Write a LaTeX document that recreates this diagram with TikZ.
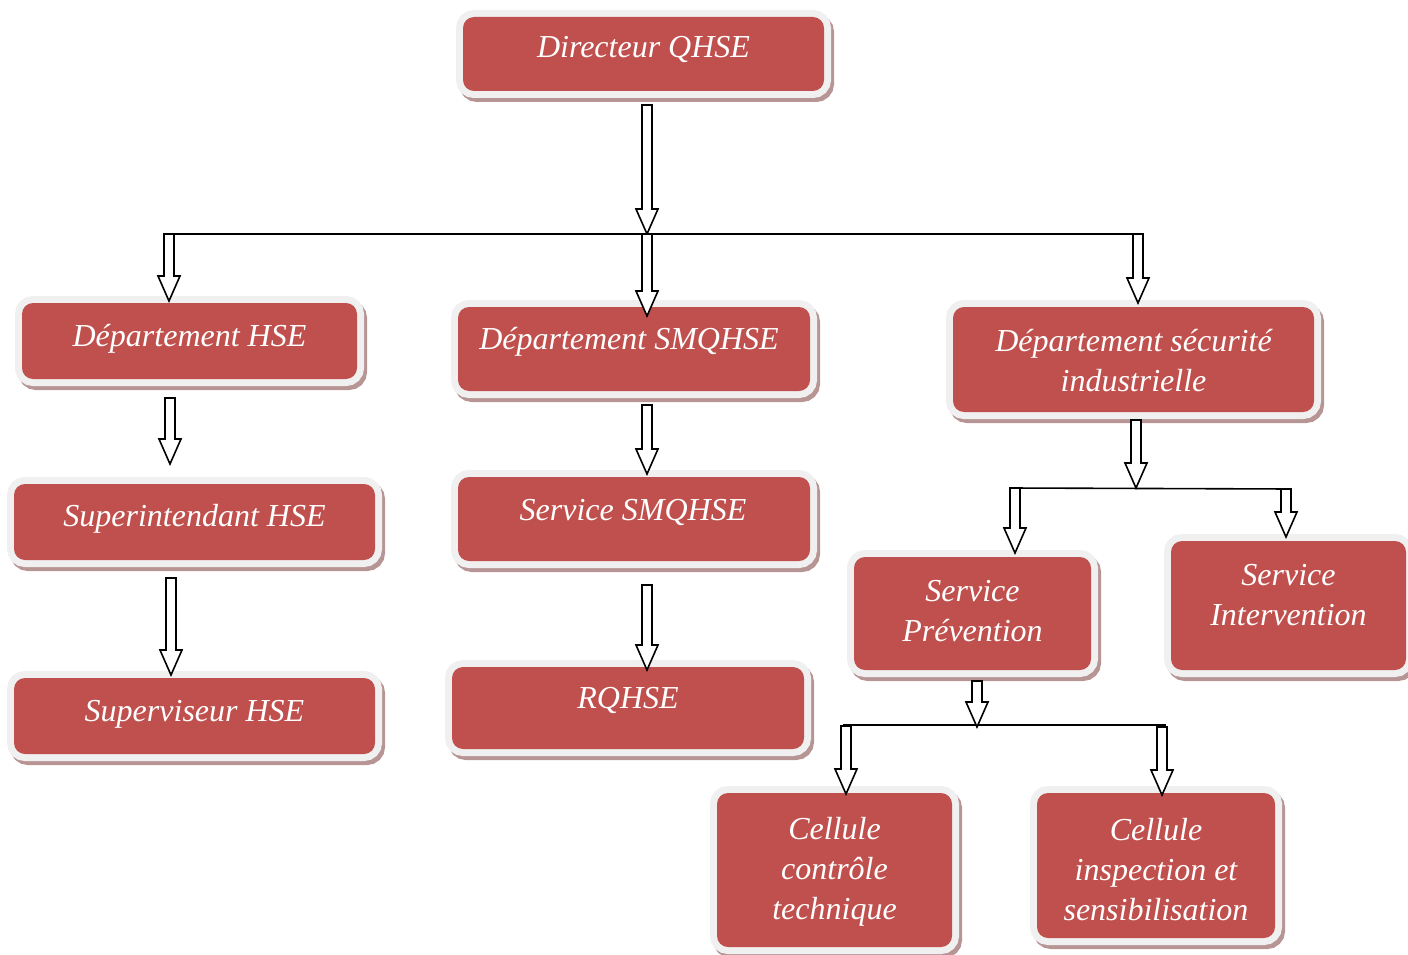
\documentclass[tikz,border=0pt]{standalone}
\usepackage{fontspec}
\setmainfont{Liberation Serif}
\usetikzlibrary{calc}
\definecolor{boxred}{HTML}{C0504D}
\definecolor{boxframe}{HTML}{F0F0F0}
\definecolor{boxshadow}{HTML}{B79595}
\tikzset{
  orgbox/.style={rectangle, rounded corners=11pt, fill=boxred, inner sep=0pt,
    preaction={draw=boxshadow, line width=14pt, transform canvas={shift={(3pt,-4pt)}}},
    preaction={draw=boxframe, line width=14pt}},
  boxtext/.style={text=white, font=\fontsize{32}{40}\selectfont\itshape,
    align=center, inner sep=0pt},
  hollowarrow/.style={draw=black, fill=white, line width=1.6pt, line join=miter},
  joinline/.style={draw=black, line width=1.6pt}
}
\newcommand\blockarrow[2]{%
  \draw[hollowarrow] let \p1=(#1), \p2=(#2) in
    (\x1-5pt,\y1) -- (\x1+5pt,\y1) -- (\x1+5pt,\y2+25pt) -- (\x1+11pt,\y2+25pt)
    -- (\x1,\y2) -- (\x1-11pt,\y2+25pt) -- (\x1-5pt,\y2+25pt) -- cycle;}
\begin{document}
\begin{tikzpicture}[x=1pt,y=-1pt]
\useasboundingbox (0,0) rectangle (1408,955);
% boxes
\node[orgbox, minimum width=361pt, minimum height=74pt] (dir) at (643.5,54) {};
\node[orgbox, minimum width=335pt, minimum height=76pt] (dhse) at (189.5,341) {};
\node[orgbox, minimum width=352pt, minimum height=84pt] (dsmq) at (634,349) {};
\node[orgbox, minimum width=361pt, minimum height=105pt] (dsec) at (1133.5,359.5) {};
\node[orgbox, minimum width=361pt, minimum height=76pt] (sint) at (194.5,522) {};
\node[orgbox, minimum width=352pt, minimum height=84pt] (ssmq) at (634,519) {};
\node[orgbox, minimum width=352pt, minimum height=82pt] (rq) at (628,708) {};
\node[orgbox, minimum width=361pt, minimum height=76pt] (sup) at (194.5,716) {};
\node[orgbox, minimum width=237pt, minimum height=113pt] (sprev) at (972.5,613.5) {};
\node[orgbox, minimum width=235pt, minimum height=129pt] (sinter) at (1288.5,605.5) {};
\node[orgbox, minimum width=235pt, minimum height=154pt] (cct) at (834.5,870) {};
\node[orgbox, minimum width=238pt, minimum height=145pt] (cis) at (1156,865.5) {};
% texts
\node[boxtext] (tdir) at ($(dir.center)+(0,-4)$) {Directeur QHSE};
\node[boxtext] (tdhse) at ($(dhse.center)+(0,-2)$) {Département HSE};
\node[boxtext] (tdsmq) at ($(dsmq.center)+(-5,-7)$) {Département SMQHSE};
\node[boxtext] (tdsec) at ($(dsec.center)+(0,1)$) {Département sécurité\\industrielle};
\node[boxtext] (tsint) at ($(sint.center)+(0,-3)$) {Superintendant HSE};
\node[boxtext] (tssmq) at ($(ssmq.center)+(-1,-7)$) {Service SMQHSE};
\node[boxtext] (trq) at ($(rq.center)+(0,-8)$) {RQHSE};
\node[boxtext] (tsup) at ($(sup.center)+(0,-2)$) {Superviseur HSE};
\node[boxtext] (tsprev) at ($(sprev.center)+(0,-2)$) {Service\\Prévention};
\node[boxtext] (tsinter) at ($(sinter.center)+(0,-10)$) {Service\\Intervention};
\node[boxtext] (tcct) at ($(cct.center)+(0,2)$) {Cellule\\contrôle\\technique};
\node[boxtext] (tcis) at ($(cis.center)+(0,4)$) {Cellule\\inspection et\\sensibilisation};
% junction coordinates
\coordinate (h1l) at (163,234);
\coordinate (h1r) at (1144,234);
\coordinate (h2l) at (1010,488);
\coordinate (h2r) at (1291,489);
\coordinate (h3l) at (843,725);
\coordinate (h3r) at (1166,725);
\coordinate (a1s) at (647,105);  \coordinate (a1e) at (647,234);
\coordinate (a2s) at (169,234);  \coordinate (a2e) at (169,301);
\coordinate (a3s) at (647,234);  \coordinate (a3e) at (647,316);
\coordinate (a4s) at (1138,234); \coordinate (a4e) at (1138,303);
\coordinate (a5s) at (170,398);  \coordinate (a5e) at (170,464);
\coordinate (a6s) at (171,578);  \coordinate (a6e) at (171,675);
\coordinate (a7s) at (647,405);  \coordinate (a7e) at (647,474);
\coordinate (a8s) at (647,585);  \coordinate (a8e) at (647,670);
\coordinate (a9s) at (1136,420); \coordinate (a9e) at (1136,488);
\coordinate (a10s) at (1015,488); \coordinate (a10e) at (1015,553);
\coordinate (a11s) at (1286,489); \coordinate (a11e) at (1286,537);
\coordinate (a12s) at (977,681); \coordinate (a12e) at (977,727);
\coordinate (a13s) at (846,726); \coordinate (a13e) at (846,794);
\coordinate (a14s) at (1162,727); \coordinate (a14e) at (1162,795);
% lines
\draw[joinline] (h1l) -- (h1r);
\draw[joinline] (h2l) -- (h2r);
\draw[joinline] (h3l) -- (h3r);
% arrows
\blockarrow{a1s}{a1e}
\blockarrow{a2s}{a2e}
\blockarrow{a3s}{a3e}
\blockarrow{a4s}{a4e}
\blockarrow{a5s}{a5e}
\blockarrow{a6s}{a6e}
\blockarrow{a7s}{a7e}
\blockarrow{a8s}{a8e}
\blockarrow{a9s}{a9e}
\blockarrow{a10s}{a10e}
\blockarrow{a11s}{a11e}
\blockarrow{a12s}{a12e}
\blockarrow{a13s}{a13e}
\blockarrow{a14s}{a14e}
\end{tikzpicture}
\end{document}
